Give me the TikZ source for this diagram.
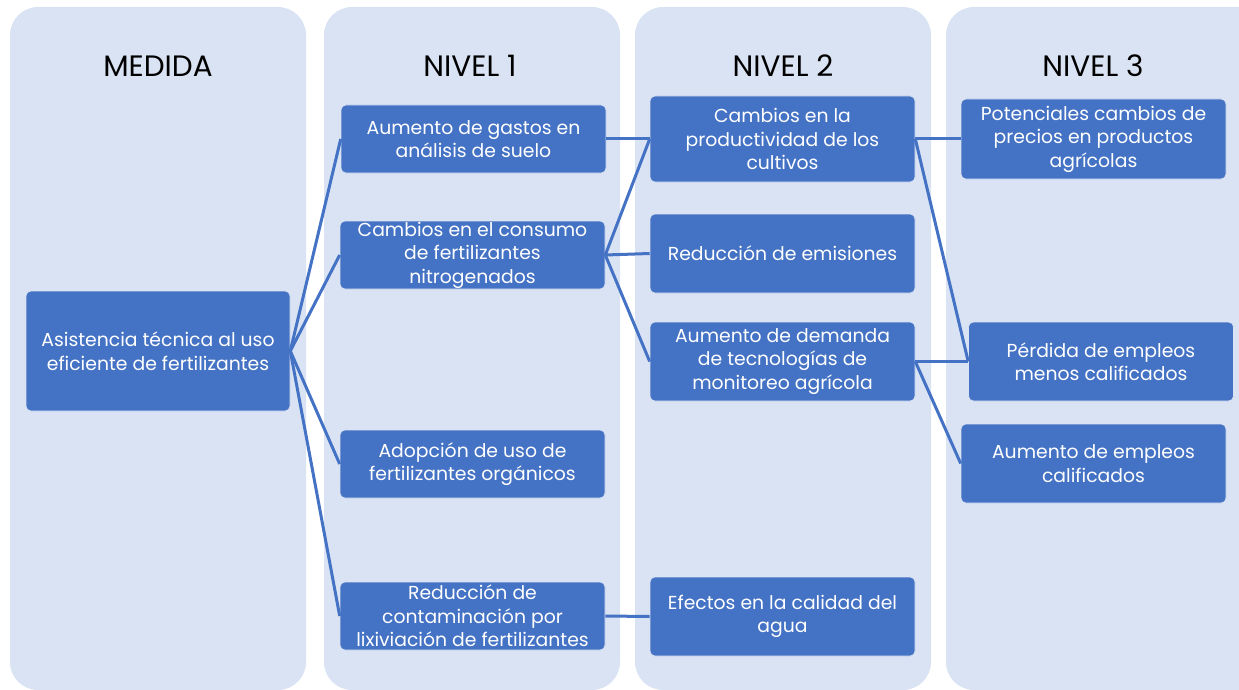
\documentclass[tikz,border=0pt]{standalone}
\usepackage{fontspec}
\setmainfont{Poppins}
\usepackage{tikz}
\definecolor{boxblue}{RGB}{68,114,196}
\definecolor{colbg}{RGB}{218,227,243}
\tikzset{
        colbox/.style={fill=colbg, rounded corners=28pt},
        head/.style={font=\fontsize{29.5}{32}\selectfont, text=black},
        proc/.style={fill=boxblue, draw=white!80!boxblue, line width=0.6pt,
        rounded corners=5pt, align=center, text=white, inner sep=0pt,
        minimum width=265pt, font=\fontsize{18.8}{23.5}\selectfont},
        link/.style={draw=boxblue, line width=3pt},
 }

\begin{document}
\begin{tikzpicture}[x=1pt, y=-1pt]
    \useasboundingbox (0,0) rectangle (1239,690);
    \clip (0,0) rectangle (1239,690);

    % columns
    \path[colbox] (10,7) rectangle (306,690);
    \path[colbox] (324,7) rectangle (620,690);
    \path[colbox] (635,7) rectangle (931,690);
    \path[colbox] (946,7) rectangle (1275,690);

    \node[head] (hmedida) at (158,66) {MEDIDA};
    \node[head] (hnivel1) at (470,66) {NIVEL 1};
    \node[head] (hnivel2) at (783,66) {NIVEL 2};
    \node[head] (hnivel3) at (1093,66) {NIVEL 3};

    \node[proc, minimum width=264pt, minimum height=120pt] (medida) at (158,351)
    {Asistencia técnica al uso\\ eficiente de fertilizantes};

    % nivel 1
    \node[proc, minimum height=68pt] (gastos) at (473.5,139)
    {Aumento de gastos en\\ análisis de suelo};
    \node[proc, minimum height=68pt] (consumo) at (472.5,255)
    {Cambios en el consumo\\ de fertilizantes\\ nitrogenados};
    \node[proc, minimum height=68pt] (organicos) at (472.5,464)
    {Adopción de uso de\\ fertilizantes orgánicos};
    \node[proc, minimum height=68pt] (lixiviacion) at (472.5,616)
    {Reducción de\\ contaminación por\\ lixiviación de fertilizantes};

    % nivel 2
    \node[proc, minimum height=86pt] (productividad) at (782.5,139)
    {Cambios en la\\ productividad de los\\ cultivos};
    \node[proc, minimum height=79pt] (emisiones) at (782.5,253.5)
    {Reducción de emisiones};
    \node[proc, minimum height=79pt] (monitoreo) at (782.5,361.5)
    {Aumento de demanda\\ de tecnologías de\\ monitoreo agrícola};
    \node[proc, minimum height=79pt] (agua) at (782.5,616.5)
    {Efectos en la calidad del\\ agua};

    % nivel 3
    \node[proc, minimum height=80pt] (precios) at (1093.5,139)
    {Potenciales cambios de\\ precios en productos\\ agrícolas};
    \node[proc, minimum height=79pt] (perdida) at (1101,361.5)
    {Pérdida de empleos\\ menos calificados};
    \node[proc, minimum height=79pt] (calificados) at (1093.5,463.5)
    {Aumento de empleos\\ calificados};

    \draw[link] (medida.east) -- (gastos.west);
    \draw[link] (medida.east) -- (consumo.west);
    \draw[link] (medida.east) -- (organicos.west);
    \draw[link] (medida.east) -- (lixiviacion.west);

    \draw[link] (gastos.east) -- (productividad.west);
    \draw[link] (consumo.east) -- (productividad.west);
    \draw[link] (consumo.east) -- (emisiones.west);
    \draw[link] (consumo.east) -- (monitoreo.west);
    \draw[link] (lixiviacion.east) -- (agua.west);

    \draw[link] (productividad.east) -- (precios.west);
    \draw[link] (productividad.east) -- (perdida.west);
    \draw[link] (monitoreo.east) -- (perdida.west);
    \draw[link] (monitoreo.east) -- (calificados.west);

\end{tikzpicture}
\end{document}
